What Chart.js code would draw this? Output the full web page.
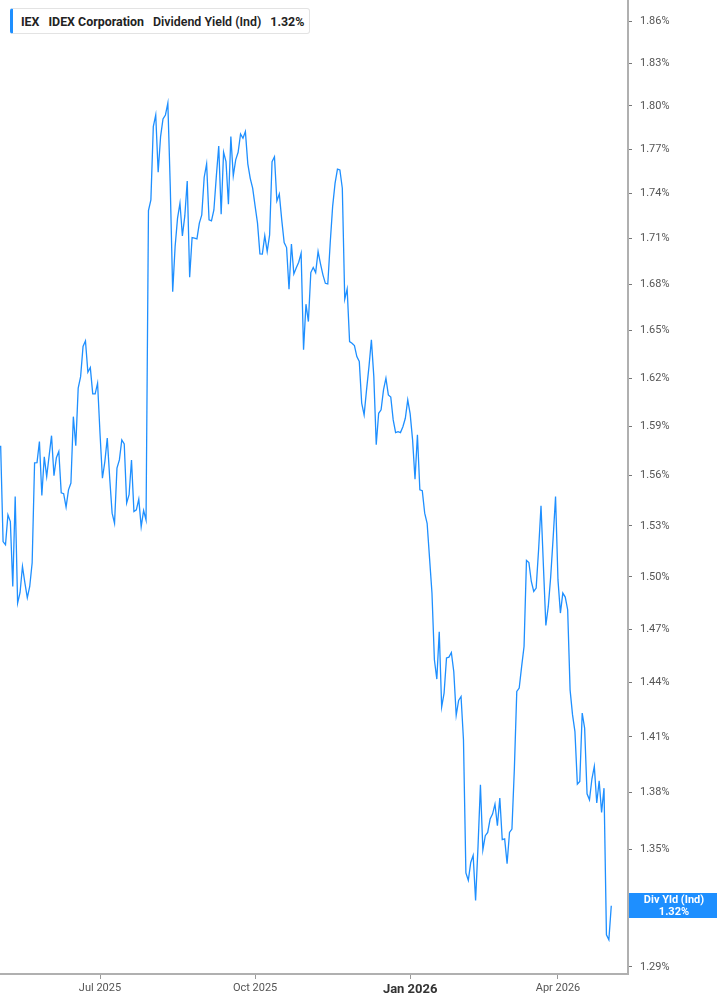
<!DOCTYPE html>
<html>
<head>
<meta charset="utf-8">
<title>IEX Dividend Yield</title>
<script src="https://cdn.jsdelivr.net/npm/chart.js@4.4.1/dist/chart.umd.min.js"></script>
<style>
	body { margin: 0; background: #fff; }
	#wrap { position: relative; width: 717px; height: 1005px; }
	#legendBox {
		position: absolute; left: 10px; top: 8px; height: 24px;
		padding: 0 5px 0 8px;
		border: 1px solid #e3e3e3; border-left: 3px solid #1e8fff; border-radius: 3px;
		background: #fff; display: flex; align-items: center;
		font-family: Roboto, "Noto Sans", sans-serif; font-size: 12.4px; font-weight: 700; color: #222;
	}
	#legendBox span { margin-right: 9px; white-space: nowrap; }
	#legendBox span:last-child { margin-right: 0; }
</style>
</head>
<body>
<div id="wrap">
	<canvas id="chart"></canvas>
	<div id="legendBox"><span>IEX</span><span>IDEX Corporation</span><span style="font-weight:600">Dividend Yield (Ind)</span><span id="legendValue"></span></div>
</div>
<script>
// daily dividend yield (%), one value per trading day from May 1 2025
const yieldValues = [
	1.5781, 1.5207, 1.5188, 1.5365, 1.5325, 1.4945, 1.5474, 1.4849, 1.4909, 1.5061,
	1.4966, 1.4880, 1.4945, 1.5083, 1.5677, 1.5679, 1.5807, 1.5480, 1.5714, 1.5594,
	1.5720, 1.5843, 1.5600, 1.5708, 1.5746, 1.5497, 1.5491, 1.5411, 1.5514, 1.5555,
	1.5960, 1.5781, 1.6137, 1.6209, 1.6399, 1.6435, 1.6237, 1.6266, 1.6101, 1.6101,
	1.6168, 1.5858, 1.5584, 1.5685, 1.5828, 1.5586, 1.5375, 1.5315, 1.5645, 1.5695,
	1.5817, 1.5793, 1.5435, 1.5485, 1.5695, 1.5385, 1.5395, 1.5459, 1.5295, 1.5391,
	1.5335, 1.7285, 1.7356, 1.7856, 1.7936, 1.7543, 1.7787, 1.7909, 1.7936, 1.8018,
	1.7445, 1.6751, 1.7046, 1.7234, 1.7334, 1.7116, 1.7249, 1.7484, 1.6845, 1.7105,
	1.7101, 1.7096, 1.7201, 1.7256, 1.7509, 1.7600, 1.7223, 1.7216, 1.7289, 1.7513,
	1.7722, 1.7261, 1.7679, 1.7615, 1.7327, 1.7787, 1.7518, 1.7627, 1.7679, 1.7805,
	1.7775, 1.7821, 1.7600, 1.7502, 1.7435, 1.7316, 1.7201, 1.6998, 1.6996, 1.7118,
	1.7013, 1.7123, 1.7615, 1.7649, 1.7349, 1.7396, 1.7223, 1.7072, 1.7039, 1.6767,
	1.7063, 1.6866, 1.6906, 1.6943, 1.7002, 1.6378, 1.6670, 1.6558, 1.6875, 1.6908,
	1.6875, 1.7013, 1.6932, 1.6860, 1.6805, 1.6801, 1.7068, 1.7311, 1.7468, 1.7564,
	1.7559, 1.7435, 1.6702, 1.6768, 1.6430, 1.6420, 1.6405, 1.6335, 1.6304, 1.6044,
	1.5971, 1.6126, 1.6272, 1.6441, 1.6209, 1.5787, 1.5981, 1.6002, 1.6126, 1.6199,
	1.6095, 1.6081, 1.5940, 1.5862, 1.5868, 1.5862, 1.5898, 1.5950, 1.6064, 1.5977,
	1.5817, 1.5578, 1.5848, 1.5514, 1.5509, 1.5375, 1.5315, 1.5110, 1.4907, 1.4527,
	1.4419, 1.4685, 1.4264, 1.4341, 1.4537, 1.4542, 1.4568, 1.4461, 1.4218, 1.4300,
	1.4322, 1.4084, 1.3377, 1.3339, 1.3431, 1.3468, 1.3235, 1.3514, 1.3841, 1.3497,
	1.3571, 1.3588, 1.3659, 1.3685, 1.3738, 1.3624, 1.3770, 1.3550, 1.3554, 1.3425,
	1.3588, 1.3606, 1.3926, 1.4350, 1.4369, 1.4489, 1.4602, 1.5096, 1.5084, 1.4974,
	1.4916, 1.4936, 1.5159, 1.5419, 1.5061, 1.4721, 1.4830, 1.5002, 1.5227, 1.5474,
	1.4983, 1.4792, 1.4907, 1.4884, 1.4811, 1.4359, 1.4222, 1.4129, 1.3845, 1.3859,
	1.4231, 1.4148, 1.3793, 1.3761, 1.3872, 1.3940, 1.3744, 1.3862, 1.3694, 1.3823,
	1.3061, 1.3036, 1.3208
];

// trading-day index of the first session of each labelled month
const xTickDays = [41, 105, 169, 230];
const xTickLabels = ['Jul 2025', 'Oct 2025', 'Jan 2026', 'Apr 2026'];
const yTickValues = [1.29, 1.32, 1.35, 1.38, 1.41, 1.44, 1.47, 1.50, 1.53, 1.56,
	1.59, 1.62, 1.65, 1.68, 1.71, 1.74, 1.77, 1.80, 1.83, 1.86];

const lineBlue = '#1e8fff';
const lastValue = yieldValues[yieldValues.length - 1];
document.getElementById('legendValue').textContent = lastValue.toFixed(2) + '%';

const endLabel = {
	id: 'endLabel',
	afterDraw(chart) {
		const ctx = chart.ctx;
		const y = Math.round(chart.scales.y.getPixelForValue(lastValue));
		const left = chart.chartArea.right + 1;
		ctx.save();
		ctx.fillStyle = lineBlue;
		ctx.fillRect(left, y - 13, chart.width - left, 25);
		ctx.fillStyle = '#fff';
		ctx.font = 'bold 11px Roboto';
		ctx.textAlign = 'center';
		ctx.textBaseline = 'middle';
		ctx.fillText('Div Yld (Ind)', left + 45, y - 6);
		ctx.fillText(lastValue.toFixed(2) + '%', left + 45, y + 6);
		ctx.restore();
	}
};

const chart = new Chart(document.getElementById('chart'), {
	type: 'line',
	data: {
		datasets: [{
			label: 'Dividend Yield (Ind)',
			data: yieldValues.map((v, i) => ({ x: i, y: v })),
			borderColor: lineBlue,
			borderWidth: 1.3,
			pointRadius: 0,
			tension: 0,
			fill: false
		}]
	},
	options: {
		responsive: true,
		maintainAspectRatio: false,
		animation: false,
		layout: { padding: 0 },
		plugins: {
			legend: { display: false },
			tooltip: { enabled: false }
		},
		scales: {
			x: {
				type: 'linear',
				bounds: 'data',
				min: -0.27,
				max: 258.9,
				afterFit: s => { s.height = 31; s.paddingLeft = 0; s.paddingRight = 0; },
				afterBuildTicks: s => { s.ticks = xTickDays.map(v => ({ value: v })); },
				grid: { drawOnChartArea: false, drawTicks: true, tickLength: 5, tickColor: '#999' },
				border: { display: true, color: '#b0b0b0', width: 2 },
				ticks: {
					autoSkip: false,
					maxRotation: 0,
					padding: 3,
					callback: (v, i) => xTickLabels[i],
					color: ctx => ctx.tick && ctx.tick.value === 169 ? '#333' : '#555',
					font: ctx => ctx.tick && ctx.tick.value === 169
						? { family: 'Roboto', size: 13, weight: 'bold' }
						: { family: 'Roboto', size: 11 }
				}
			},
			y: {
				type: 'logarithmic',
				position: 'right',
				bounds: 'data',
				min: 1.2864,
				max: 1.8752,
				afterFit: s => { s.width = 89; s.paddingTop = 0; s.paddingBottom = 0; },
				afterBuildTicks: s => { s.ticks = yTickValues.map(v => ({ value: v })); },
				grid: { drawOnChartArea: false, drawTicks: true, tickLength: 4, tickColor: '#777' },
				border: { display: true, color: '#b0b0b0', width: 2 },
				ticks: {
					autoSkip: false,
					padding: 8,
					color: '#555',
					font: { family: 'Roboto', size: 11 },
					callback: v => Number(v).toFixed(2) + '%'
				}
			}
		}
	},
	plugins: [endLabel]
});
</script>
</body>
</html>
